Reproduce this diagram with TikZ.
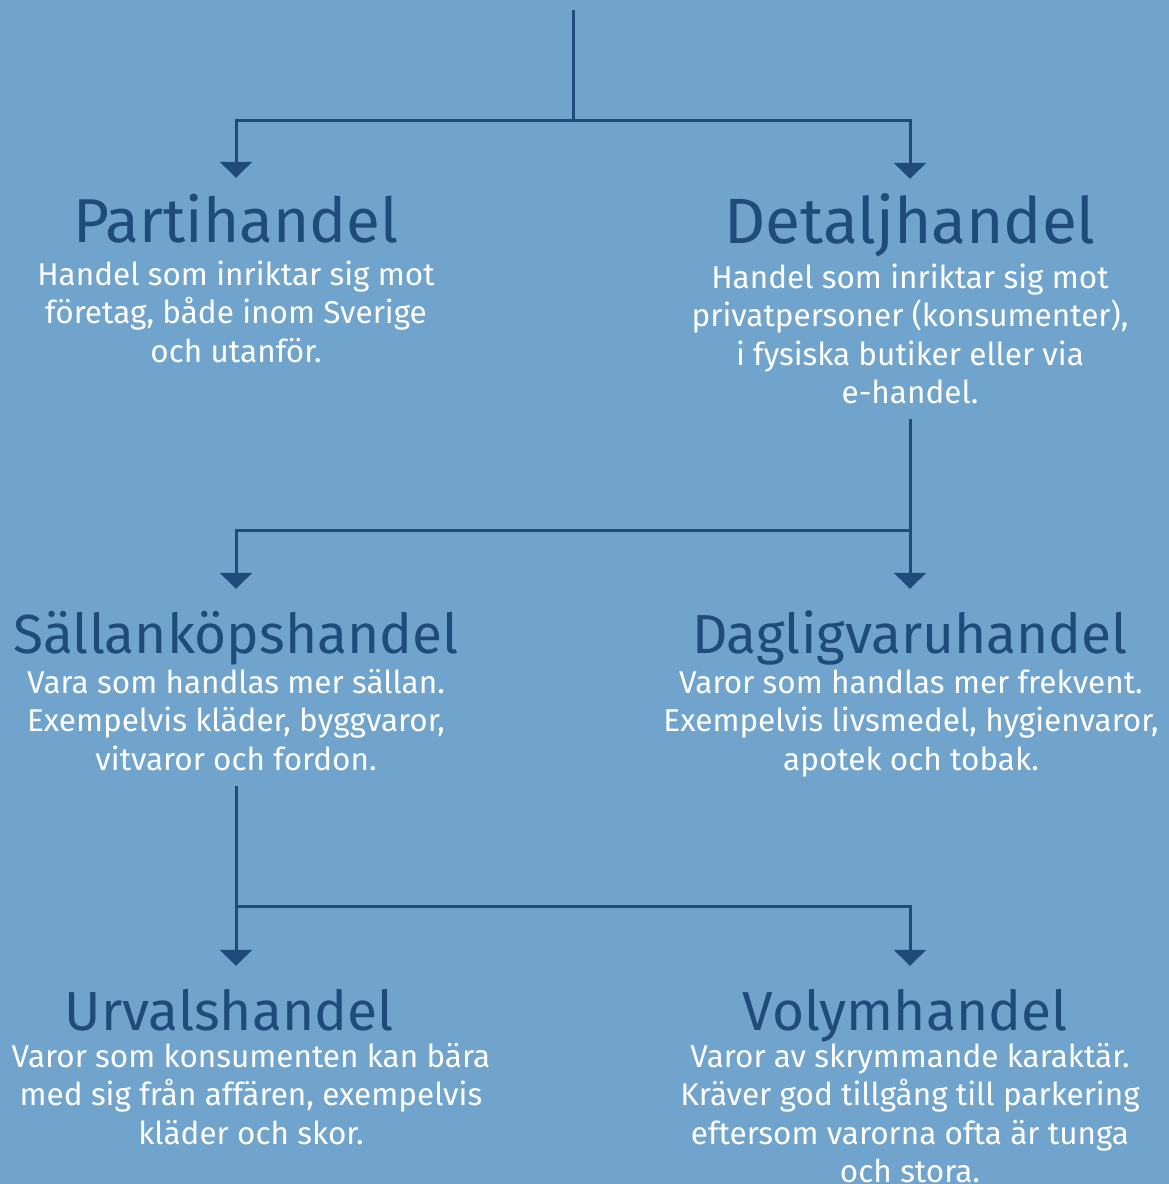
\documentclass[tikz,border=0pt]{standalone}
\usepackage{fontspec}
\setmainfont{Fira Sans}
\usetikzlibrary{arrows.meta, positioning, calc}
\definecolor{bakgrund}{RGB}{112, 164, 205}
\definecolor{mork}{RGB}{31, 75, 122}

\tikzset{
  rubrik/.style={text=mork, font=\fontsize{62}{70}\selectfont, anchor=base,
    inner sep=0pt, text height=64pt, text depth=0pt},
  underrubrik/.style={rubrik, font=\fontsize{55}{62}\selectfont},
  besk/.style={text=white, font=\fontsize{31.5}{38.5}\selectfont, align=center,
    anchor=north, inner sep=0pt},
  linje/.style={draw=mork, line width=3pt},
  pil/.style={linje, -{Triangle[width=32pt, length=16pt]}}
}

\begin{document}
\begin{tikzpicture}[x=1pt, y=-1pt]
  \fill[bakgrund] (0,0) rectangle (1169,1184);
  \useasboundingbox (0,0) rectangle (1169,1184);

  % forsta nivan
  \node[rubrik] (parti) at (236,242) {Partihandel};
  \node[rubrik, font=\fontsize{64}{70}\selectfont] (detalj) at (910,243) {Detaljhandel};
  \node[besk] (partibesk) at (236,258) {\strut Handel som inriktar sig mot\\
    företag, både inom Sverige\\och utanför.};
  \node[besk] (detaljbesk) at (910,261) {\strut Handel som inriktar sig mot\\
    privatpersoner (konsumenter),\\i fysiska butiker eller via\\e-handel.};

  % andra nivan
  \node[underrubrik] (sallan) at (236,653) {Sällanköpshandel};
  \node[underrubrik] (dagl) at (910,653) {Dagligvaruhandel};
  \node[besk] (sallanbesk) at (236,666) {\strut Vara som handlas mer sällan.\\
    Exempelvis kläder, byggvaror,\\vitvaror och fordon.};
  \node[besk] (daglbesk) at (911,666) {\strut Varor som handlas mer frekvent.\\
    Exempelvis livsmedel, hygienvaror,\\apotek och tobak.};

  % tredje nivan
  \node[underrubrik] (urval) at (229,1030) {Urvalshandel};
  \node[underrubrik] (volym) at (905,1030) {Volymhandel};
  \node[besk] (urvalbesk) at (251,1040) {\strut Varor som konsumenten kan bära\\
    med sig från affären, exempelvis\\kläder och skor.};
  \node[besk] (volymbesk) at (910,1040) {\strut Varor av skrymmande karaktär.\\
    Kräver god tillgång till parkering\\eftersom varorna ofta är tunga\\och stora.};

  % grenar
  \coordinate (rot) at (573,10);
  \coordinate (gren1) at (573,120);
  \coordinate (gren2) at (910,530);
  \coordinate (gren3) at (236,906);

  \draw[linje] (rot) -- (gren1);
  \draw[pil] (gren1) -| (parti.north);
  \draw[pil] (gren1) -| (detalj.north);

  \draw[pil, shorten <=15pt] (detaljbesk.south) -- (dagl.north);
  \draw[pil] (gren2) -| (sallan.north);

  \draw[pil, shorten <=15pt] (sallanbesk.south) -- (gren3 |- urval.north);
  \draw[pil] (gren3) -| (volymbesk.north |- volym.north);
\end{tikzpicture}
\end{document}
